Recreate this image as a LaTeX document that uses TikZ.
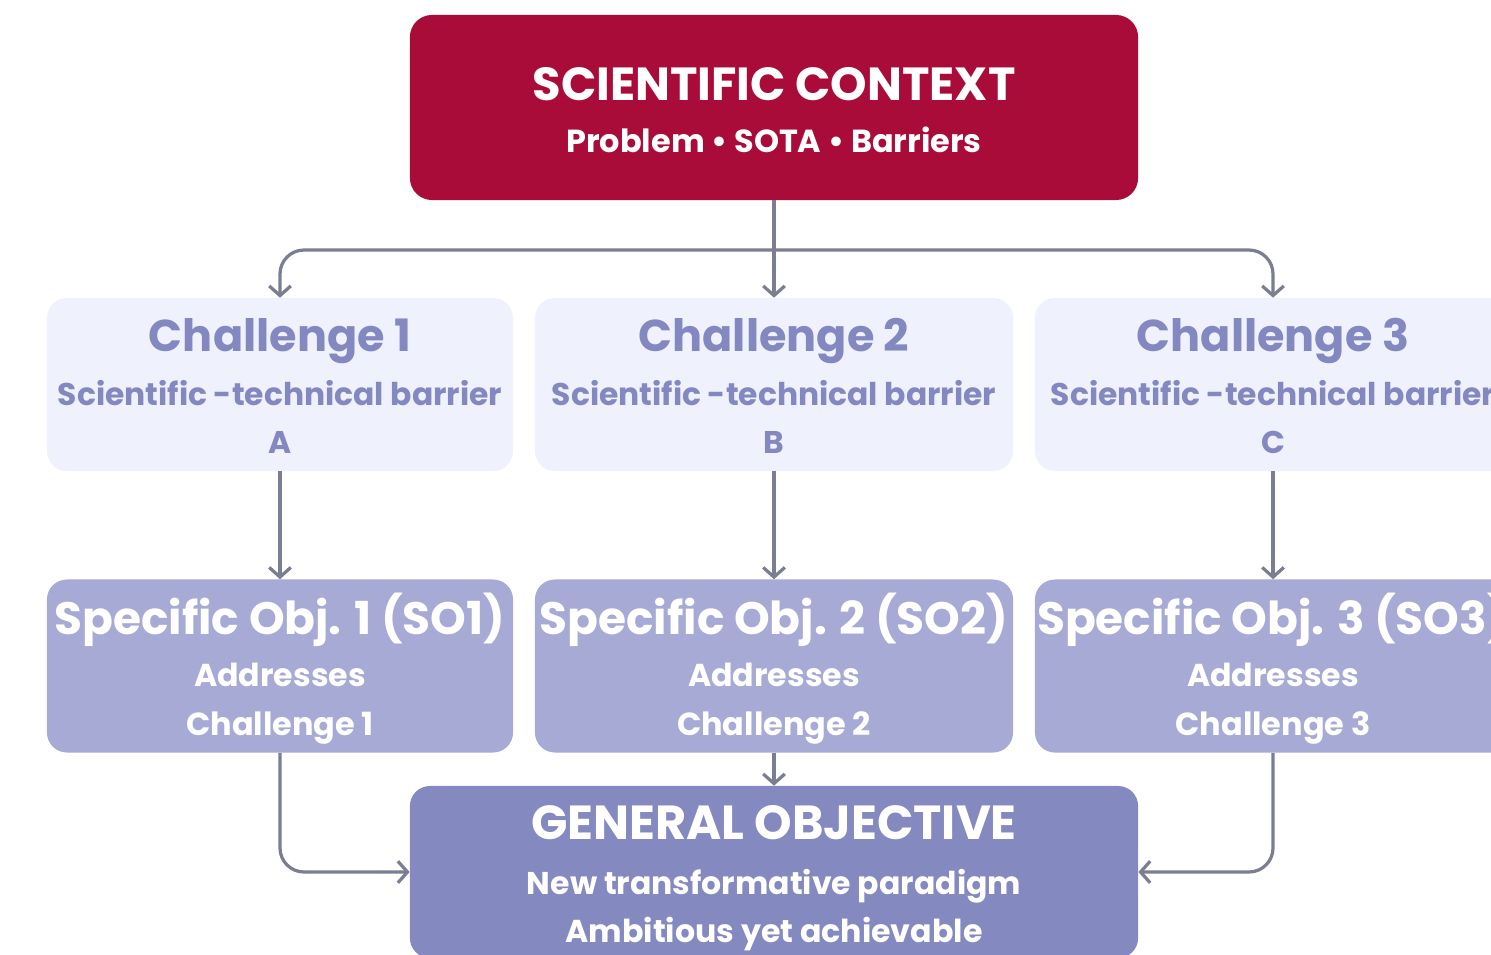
\documentclass[tikz,border=0pt]{standalone}
\usepackage{fontspec}
\setmainfont{Poppins}
\usetikzlibrary{arrows.meta,positioning}
\definecolor{crimson}{HTML}{AA0C3A}
\definecolor{chfill}{HTML}{EFF1FD}
\definecolor{chtext}{HTML}{8388C0}
\definecolor{sofill}{HTML}{A7AAD4}
\definecolor{gofill}{HTML}{8489C0}
\definecolor{conncol}{HTML}{7B7D93}
\tikzset{
  box/.style={rectangle, rounded corners=0.5cm, inner sep=0pt},
  ctxbox/.style={box, fill=crimson, minimum width=18.2cm, minimum height=4.625cm, rounded corners=0.55cm},
  chbox/.style={box, fill=chfill, minimum height=4.325cm},
  sobox/.style={box, fill=sofill, minimum height=4.325cm},
  gobox/.style={box, fill=gofill, minimum width=18.2cm, minimum height=4.3cm},
  txt/.style={anchor=base, inner sep=0pt, font=\bfseries},
  conn/.style={draw=conncol, line width=2.3pt, -{Straight Barb[length=2.4mm,width=5.4mm,line width=2.3pt]}},
}
\begin{document}
\begin{tikzpicture}[x=0.025cm,y=-0.025cm]
\useasboundingbox (0,0) rectangle (1491,954);
\clip (0,0) rectangle (1491,954);
% boxes
\node[ctxbox] (ctx) at (774,107.5) {};
\node[chbox, minimum width=11.65cm] (c1) at (280,384.5) {};
\node[chbox, minimum width=11.95cm] (c2) at (774,384.5) {};
\node[chbox, minimum width=11.9cm] (c3) at (1273,384.5) {};
\node[sobox, minimum width=11.65cm] (s1) at (280,666) {};
\node[sobox, minimum width=11.95cm] (s2) at (774,666) {};
\node[sobox, minimum width=11.9cm] (s3) at (1273,666) {};
\node[gobox] (go) at (774,872) {};
% texts
\node[txt, text=white, font=\bfseries\fontsize{33}{33}\selectfont] (ctxt) at (774,100) {SCIENTIFIC CONTEXT};
\node[txt, text=white, font=\bfseries\fontsize{22.7}{22.7}\selectfont] (ctxs) at (774,152) {Problem • SOTA • Barriers};
\foreach \n/\x/\l in {1/280/A, 2/774/B, 3/1273/C}{
  \node[txt, text=chtext, font=\bfseries\fontsize{31.7}{31.7}\selectfont] (ct\n) at (\x,351) {Challenge \n};
  \node[txt, text=chtext, font=\bfseries\fontsize{22.3}{22.3}\selectfont] (cs\n) at (\x,405) {Scientific -technical barrier};
  \node[txt, text=chtext, font=\bfseries\fontsize{22.3}{22.3}\selectfont] (cl\n) at (\x,453) {\l};
  \node[txt, text=white, font=\bfseries\fontsize{32.3}{32.3}\selectfont] (st\n) at (\x,634) {Specific Obj. \n\ (SO\n)};
  \node[txt, text=white, font=\bfseries\fontsize{22.5}{22.5}\selectfont] (sa\n) at (\x,686) {Addresses};
  \node[txt, text=white, font=\bfseries\fontsize{22.7}{22.7}\selectfont] (sc\n) at (\x,735) {Challenge \n};
}
\node[txt, text=white, font=\bfseries\fontsize{34}{34}\selectfont] (got) at (774,839) {GENERAL OBJECTIVE};
\node[txt, text=white, font=\bfseries\fontsize{22.4}{22.4}\selectfont] (gos1) at (774,894) {New transformative paradigm};
\node[txt, text=white, font=\bfseries\fontsize{22.5}{22.5}\selectfont] (gos2) at (774,942) {Ambitious yet achievable};
% connectors
\coordinate (split) at (774,250);
\draw[conn] (ctx.south) -- (c2.north);
\draw[conn, rounded corners=0.6cm] (split) -| (c1.north);
\draw[conn, rounded corners=0.6cm] (split) -| (c3.north);
\draw[conn] (c1.south) -- (s1.north);
\draw[conn] (c2.south) -- (s2.north);
\draw[conn] (c3.south) -- (s3.north);
\draw[conn] (s2.south) -- (go.north);
\draw[conn, rounded corners=0.6cm] (s1.south) |- (go.west);
\draw[conn, rounded corners=0.6cm] (s3.south) |- (go.east);
\end{tikzpicture}
\end{document}
